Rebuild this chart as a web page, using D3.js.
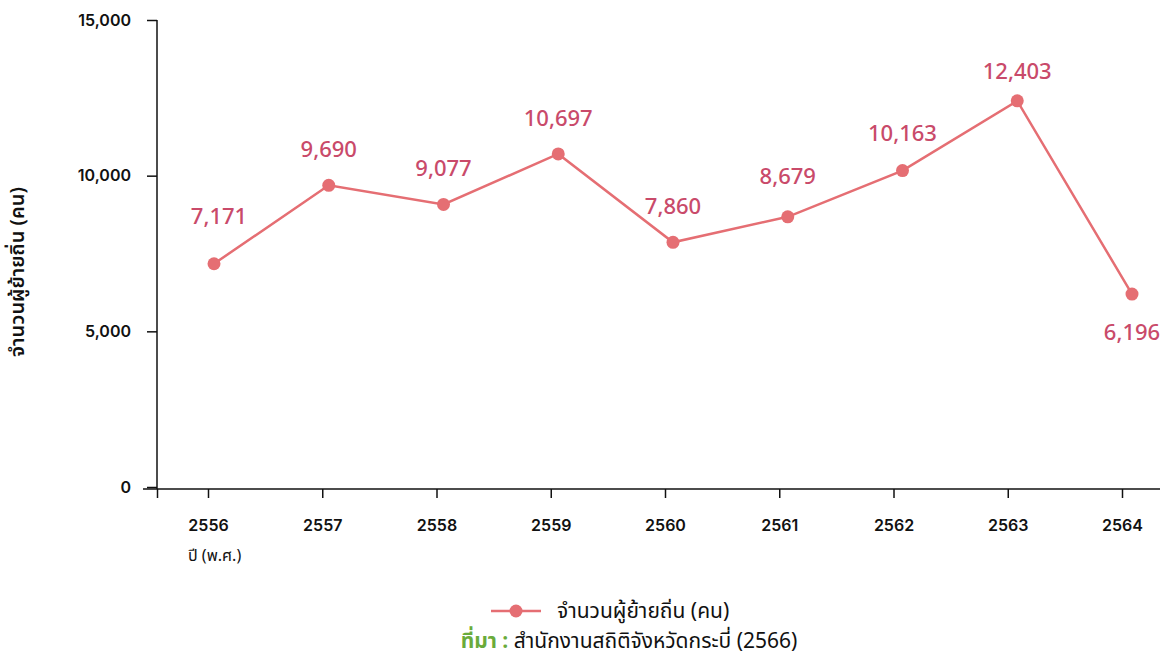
<!DOCTYPE html>
<html>
<head>
<meta charset="utf-8">
<title>ผู้ย้ายถิ่น กระบี่</title>
<style>
    body { margin: 0; background: #fff; }
    svg { display: block; font-family: "Noto Sans Thai", "Noto Sans", "DejaVu Sans", sans-serif; }
    .axis .domain { display: none; }
    .axis line { stroke: #111; stroke-width: 1.5; }
    .axis text { fill: #111; font-family: Inter, "Noto Sans", sans-serif; font-size: 16px; font-weight: 600; }
</style>
</head>
<body>
<svg width="1163" height="658"></svg>
<script src="https://cdn.jsdelivr.net/npm/d3@7"></script>
<script>

    var years = ["2556", "2557", "2558", "2559", "2560", "2561", "2562", "2563", "2564"];
    var migrants = [7171, 9690, 9077, 10697, 7860, 8679, 10163, 12403, 6196];
    var yTicks = [0, 5000, 10000, 15000];

    var seriesName = "จำนวนผู้ย้ายถิ่น (คน)";
    var xTitle = "ปี (พ.ศ.)";
    var sourceLabel = "ที่มา :";
    var sourceText = " สำนักงานสถิติจังหวัดกระบี่ (2566)";

    var lineColor = "#e56e73",
        labelColor = "#c94a6a";

    var svg = d3.select("svg");

    var y = d3.scaleLinear().domain([0, 15000]).range([487, 20]);

    // tick positions and marker positions are slightly off in the original
    var x = d3.scalePoint().domain(years).range([208, 1122]);
    var xp = d3.scalePoint().domain(years).range([214, 1132]);

    // y axis
    var yAxis = svg.append("g")
        .attr("class", "axis")
        .attr("transform", "translate(157,0)")
        .call(d3.axisLeft(y).tickValues(yTicks).tickSize(10).tickPadding(16)
            .tickFormat(d3.format(",")));
    yAxis.append("line")
        .attr("x1", 0).attr("x2", 0)
        .attr("y1", y(15000)).attr("y2", y(0) + 2)
        .attr("stroke", "#111").attr("stroke-width", 1.5);

    // x axis
    var xAxis = svg.append("g")
        .attr("class", "axis")
        .attr("transform", "translate(0," + (y(0) + 2) + ")")
        .call(d3.axisBottom(x).tickSize(9).tickPadding(23));
    xAxis.append("line")
        .attr("x1", 143).attr("x2", 1160)
        .attr("stroke", "#111").attr("stroke-width", 1.5);
    xAxis.selectAll(".tick text").attr("dy", "0.6em");
    xAxis.select(".tick:first-of-type line").clone()
        .attr("transform", "translate(-51,0)");

    svg.append("text")
        .attr("x", 188)
        .attr("y", 561)
        .attr("font-size", 16)
        .attr("fill", "#111")
        .text(xTitle);

    svg.append("text")
        .attr("transform", "translate(24,272) rotate(-90)")
        .attr("text-anchor", "middle")
        .attr("font-size", 20)
        .attr("font-weight", 600)
        .attr("fill", "#111")
        .text(seriesName);

    // line + markers
    var line = d3.line()
        .x(function (d, i) { return xp(years[i]); })
        .y(function (d) { return y(d); });

    svg.append("path")
        .datum(migrants)
        .attr("fill", "none")
        .attr("stroke", lineColor)
        .attr("stroke-width", 2.5)
        .attr("d", line);

    svg.append("g")
        .selectAll("circle")
        .data(migrants)
        .enter().append("circle")
        .attr("cx", function (d, i) { return xp(years[i]); })
        .attr("cy", function (d) { return y(d); })
        .attr("r", 6.5)
        .attr("fill", lineColor);

    // value labels (last one sits below its marker)
    var labelShift = [-47, -36, -36, -36, -36, -40, -37, -30, 38];
    svg.append("g")
        .selectAll("text")
        .data(migrants)
        .enter().append("text")
        .attr("x", function (d, i) { return xp(years[i]) + (i === 0 ? 5 : 0); })
        .attr("y", function (d, i) { return y(d) + labelShift[i]; })
        .attr("dy", "0.35em")
        .attr("text-anchor", "middle")
        .attr("font-size", 22)
        .attr("font-weight", 500)
        .attr("fill", labelColor)
        .text(d3.format(","));

    // legend
    var legend = svg.append("g").attr("transform", "translate(491,611)");
    legend.append("line")
        .attr("x1", 0).attr("x2", 50)
        .attr("stroke", lineColor).attr("stroke-width", 2.5);
    legend.append("circle")
        .attr("cx", 25).attr("r", 6.5).attr("fill", lineColor);
    legend.append("text")
        .attr("x", 66)
        .attr("dy", "0.35em")
        .attr("font-size", 21)
        .attr("fill", "#111")
        .text(seriesName);

    // source
    var src = svg.append("text")
        .attr("x", 629)
        .attr("y", 641)
        .attr("dy", "0.35em")
        .attr("text-anchor", "middle")
        .attr("font-size", 21)
        .attr("fill", "#111");
    src.append("tspan")
        .attr("fill", "#6aab3b")
        .attr("font-weight", 700)
        .text(sourceLabel);
    src.append("tspan").text(sourceText);

</script>
</body>
</html>
